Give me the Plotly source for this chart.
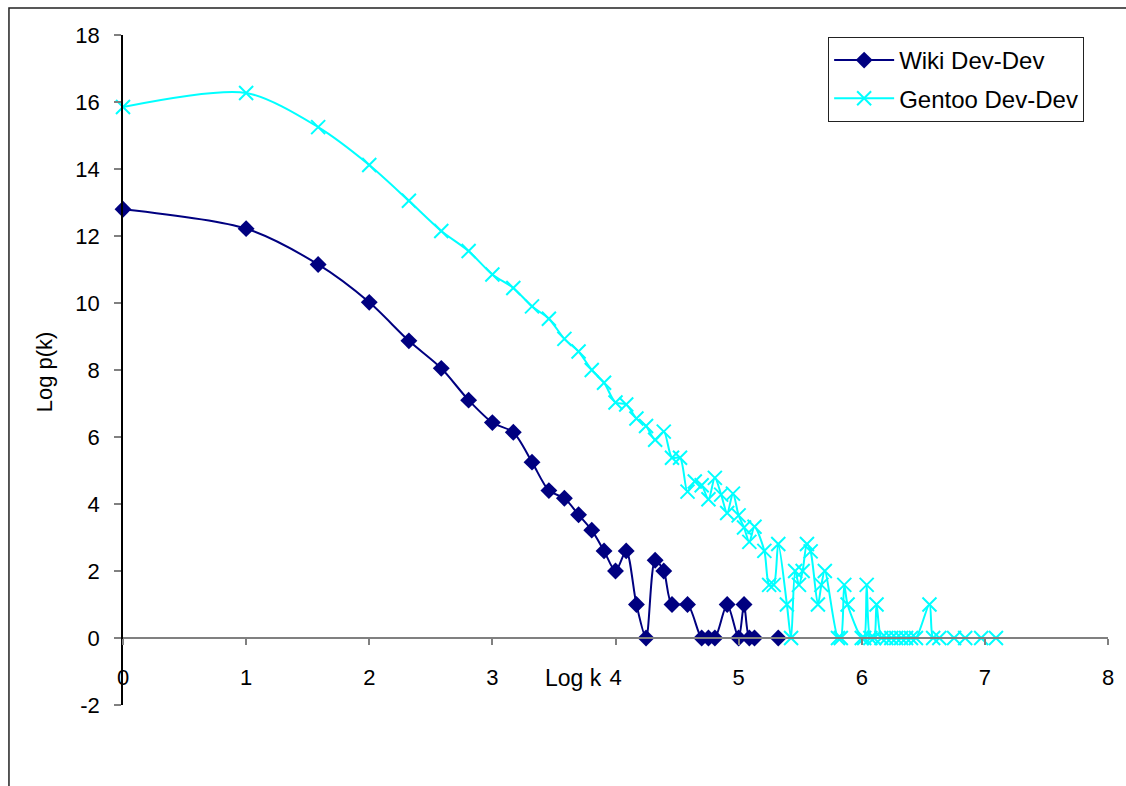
import plotly.graph_objects as go

# ---- data ----
wiki_x = [0, 1, 1.585, 2, 2.322, 2.585, 2.807, 3, 3.17, 3.322, 3.459, 3.585, 3.70, 3.807,
          3.907, 4.0, 4.087, 4.17, 4.248, 4.322, 4.392, 4.459, 4.585, 4.70, 4.755, 4.807,
          4.907, 5.0, 5.044, 5.087, 5.129, 5.322]
wiki_y = [12.8, 12.22, 11.15, 10.02, 8.87, 8.05, 7.1, 6.43, 6.14, 5.25, 4.4, 4.17, 3.68, 3.22,
          2.6, 2.0, 2.6, 1.0, 0, 2.32, 2.0, 1.0, 1.0, 0, 0, 0,
          1.0, 0, 1.0, 0, 0, 0]

gentoo_x = [0, 1, 1.585, 2, 2.322, 2.585, 2.807, 3, 3.17, 3.322, 3.459, 3.585, 3.70, 3.807,
            3.907, 4.0, 4.087, 4.17, 4.248, 4.322, 4.392, 4.459, 4.524, 4.585, 4.644, 4.70,
            4.755, 4.807, 4.858, 4.907, 4.954, 5.0, 5.044, 5.087, 5.129, 5.209, 5.248, 5.285,
            5.322, 5.392, 5.426, 5.459, 5.49, 5.52, 5.555, 5.585, 5.644, 5.672, 5.70, 5.807,
            5.83, 5.858, 5.885, 6.0, 6.02, 6.04, 6.07, 6.1, 6.12, 6.16, 6.2, 6.24, 6.28, 6.32,
            6.36, 6.40, 6.44, 6.55, 6.58, 6.63, 6.75, 6.84, 6.97, 7.09]
gentoo_y = [15.85, 16.27, 15.25, 14.12, 13.05, 12.15, 11.55, 10.85, 10.45, 9.9, 9.53, 8.93, 8.55, 8.0,
            7.62, 7.03, 6.97, 6.55, 6.33, 5.92, 6.16, 5.38, 5.38, 4.37, 4.67, 4.56,
            4.14, 4.78, 4.28, 3.73, 4.31, 3.66, 3.3, 2.87, 3.32, 2.6, 1.585, 1.585,
            2.807, 1.0, 0, 2.0, 1.585, 2.0, 2.807, 2.585, 1.0, 1.585, 2.0, 0,
            0, 1.585, 1.0, 0, 0, 1.585, 0, 0, 1.0, 0, 0, 0, 0, 0,
            0, 0, 0, 1.0, 0, 0, 0, 0, 0, 0]

x_ticks = [0, 1, 2, 3, 4, 5, 6, 7, 8]
y_ticks = [-2, 0, 2, 4, 6, 8, 10, 12, 14, 16, 18]

FONT = "Liberation Sans, Arial, sans-serif"
L, R, T, B = 123, 14, 35, 81
PW = 1126 - L - R
PH = 786 - T - B

fig = go.Figure()
fig.add_trace(go.Scatter(
    x=wiki_x, y=wiki_y, name="Wiki Dev-Dev", mode="lines+markers",
    line=dict(color="#000080", width=2, shape="spline", smoothing=0.8),
    marker=dict(symbol="diamond", size=13, color="#000080"),
    cliponaxis=False, legendgroup="a",
))
fig.add_trace(go.Scatter(
    x=gentoo_x, y=gentoo_y, name="Gentoo Dev-Dev", mode="lines+markers",
    line=dict(color="#00FFFF", width=2, shape="spline", smoothing=0.8),
    marker=dict(symbol="x-thin", size=14, color="#00FFFF",
                line=dict(color="#00FFFF", width=2)),
    cliponaxis=False, legendgroup="b",
))

fig.update_layout(
    width=1126, height=786,
    margin=dict(l=L, r=R, t=T, b=B),
    paper_bgcolor="white", plot_bgcolor="white",
    font=dict(family=FONT, size=22, color="black"),
    showlegend=True,
    legend=dict(
        x=(831 - L) / PW, y=1 - (37 - T) / PH, xanchor="left", yanchor="top",
        bordercolor="#222222", borderwidth=1, bgcolor="white",
        font=dict(family=FONT, size=24, color="black"),
        traceorder="grouped", tracegroupgap=4, itemwidth=60,
    ),
    xaxis=dict(
        range=[0, 8], tickvals=x_ticks, ticktext=[str(v) for v in x_ticks],
        anchor="free", position=0.1,
        showline=True, linecolor="#808080", linewidth=1.5,
        ticks="outside", ticklen=6, tickcolor="#808080", tickwidth=1.5,
        showgrid=False, zeroline=False, ticklabelstandoff=14,
        tickfont=dict(family=FONT, size=22, color="black"),
    ),
    yaxis=dict(
        range=[-2, 18], tickvals=y_ticks, ticktext=[str(v) for v in y_ticks],
        showline=True, linecolor="black", linewidth=1.5,
        ticks="outside", ticklen=7, tickcolor="#808080", tickwidth=1.5,
        showgrid=False, zeroline=False, ticklabelstandoff=10,
        tickfont=dict(family=FONT, size=22, color="black"),
    ),
    annotations=[
        dict(text="Log k", xref="paper", yref="paper", x=(575 - L) / PW, y=(705 - 678) / PH,
             showarrow=False, xanchor="center", yanchor="middle",
             font=dict(family=FONT, size=23, color="black")),
        dict(text="Log p(k)", xref="paper", yref="paper", x=(45 - L) / PW, y=(705 - 372) / PH,
             showarrow=False, xanchor="center", yanchor="middle", textangle=-90,
             font=dict(family=FONT, size=22, color="black")),
    ],
    shapes=[
        dict(type="rect", xref="paper", yref="paper",
             x0=(8.5 - L) / PW, x1=(1140 - L) / PW,
             y0=(705 - 800) / PH, y1=1 + (35 - 8) / PH,
             line=dict(color="#222222", width=1.5), fillcolor="rgba(0,0,0,0)", layer="below"),
    ],
)

fig.write_html("out.html")
